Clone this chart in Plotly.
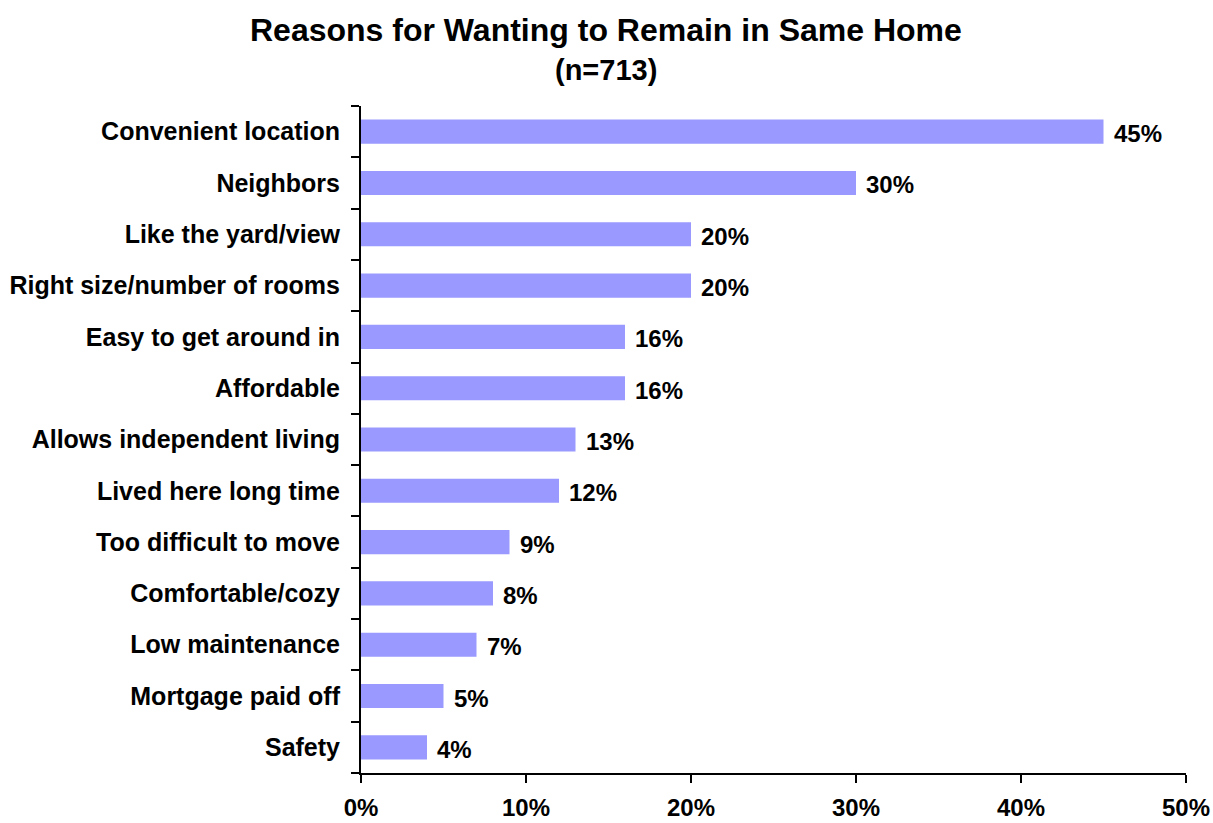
import plotly.graph_objects as go

# Survey responses: reasons for wanting to remain in the same home (n=713)
reasons = [
    "Convenient location",
    "Neighbors",
    "Like the yard/view",
    "Right size/number of rooms",
    "Easy to get around in",
    "Affordable",
    "Allows independent living",
    "Lived here long time",
    "Too difficult to move",
    "Comfortable/cozy",
    "Low maintenance",
    "Mortgage paid off",
    "Safety",
]
percent = [45, 30, 20, 20, 16, 16, 13, 12, 9, 8, 7, 5, 4]
x_ticks = [0, 10, 20, 30, 40, 50]

FONT = "Liberation Sans, Arial, sans-serif"

fig = go.Figure(
    go.Bar(
        x=percent,
        y=reasons,
        orientation="h",
        width=0.47,
        marker=dict(color="#9999FF", line=dict(width=0)),
        hoverinfo="skip",
    )
)

# value labels just past the end of each bar
for r, v in zip(reasons, percent):
    fig.add_annotation(
        x=v, y=r, xref="x", yref="y",
        text=f"<b>{v}%</b>",
        showarrow=False,
        xanchor="left", yanchor="middle",
        xshift=8, yshift=-2,
        font=dict(family=FONT, size=24, color="black"),
    )

# two-line title
TITLE_X = (605.5 - 361) / 825
fig.add_annotation(
    x=TITLE_X, xref="paper", y=(773 - 30) / 667, yref="paper",
    text="<b>Reasons for Wanting to Remain in Same Home</b>",
    showarrow=False, xanchor="center", yanchor="middle",
    font=dict(family=FONT, size=32, color="black"),
)
fig.add_annotation(
    x=TITLE_X, xref="paper", y=(773 - 70) / 667, yref="paper",
    text="<b>(n=713)</b>",
    showarrow=False, xanchor="center", yanchor="middle",
    font=dict(family=FONT, size=29, color="black"),
)

fig.update_layout(
    width=1213,
    height=823,
    paper_bgcolor="white",
    plot_bgcolor="white",
    margin=dict(l=361, r=27, t=106, b=50),
    showlegend=False,
    font=dict(family=FONT, color="black"),
)

fig.update_xaxes(
    range=[0, 50],
    tickvals=x_ticks,
    ticktext=[f"<b>{t}%</b>" for t in x_ticks],
    showgrid=False,
    zeroline=False,
    showline=True,
    linecolor="black",
    linewidth=2,
    ticks="outside",
    ticklen=8,
    tickwidth=2,
    tickcolor="black",
    ticklabelstandoff=4,
    automargin=False,
    tickfont=dict(family=FONT, size=24, color="black"),
)

fig.update_yaxes(
    categoryorder="array",
    categoryarray=reasons,
    tickvals=reasons,
    ticktext=[f"<b>{r}</b>" for r in reasons],
    autorange="reversed",
    showgrid=False,
    zeroline=False,
    showline=True,
    linecolor="black",
    linewidth=2,
    ticks="outside",
    tickson="boundaries",
    ticklen=8,
    tickwidth=2,
    tickcolor="black",
    ticklabelstandoff=14,
    automargin=False,
    tickfont=dict(family=FONT, size=25, color="black"),
)

fig.write_html("out.html")
